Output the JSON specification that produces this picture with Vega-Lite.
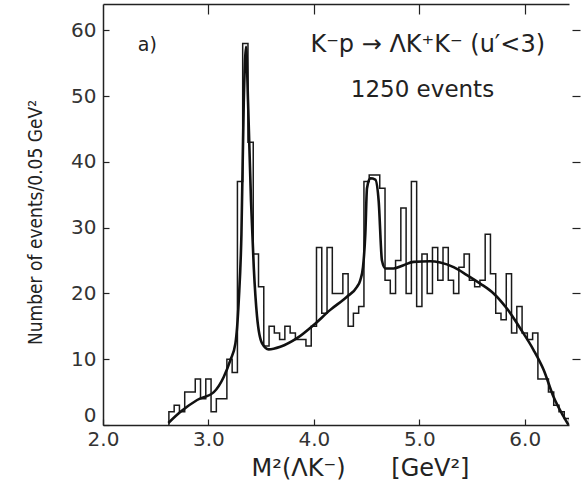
{
  "$schema": "https://vega.github.io/schema/vega-lite/v6.json",
  "width": 466,
  "height": 421,
  "autosize": {"type": "none"},
  "padding": {"left": 103, "top": 4, "right": 13, "bottom": 60},
  "background": "white",
  "config": {"view": {"stroke": null}, "font": "DejaVu Sans"},
  "datasets": {
    "hist": [
      {"i": 0, "m2": 2.625, "n": 0},
      {"i": 1, "m2": 2.625, "n": 2},
      {"i": 2, "m2": 2.675, "n": 3},
      {"i": 3, "m2": 2.725, "n": 2},
      {"i": 4, "m2": 2.775, "n": 5},
      {"i": 5, "m2": 2.825, "n": 5},
      {"i": 6, "m2": 2.875, "n": 7},
      {"i": 7, "m2": 2.925, "n": 4},
      {"i": 8, "m2": 2.975, "n": 7},
      {"i": 9, "m2": 3.025, "n": 2},
      {"i": 10, "m2": 3.075, "n": 4},
      {"i": 11, "m2": 3.125, "n": 4},
      {"i": 12, "m2": 3.175, "n": 10},
      {"i": 13, "m2": 3.225, "n": 8},
      {"i": 14, "m2": 3.275, "n": 37},
      {"i": 15, "m2": 3.325, "n": 58},
      {"i": 16, "m2": 3.375, "n": 43},
      {"i": 17, "m2": 3.425, "n": 26},
      {"i": 18, "m2": 3.475, "n": 21},
      {"i": 19, "m2": 3.525, "n": 12},
      {"i": 20, "m2": 3.575, "n": 15},
      {"i": 21, "m2": 3.625, "n": 14},
      {"i": 22, "m2": 3.675, "n": 13},
      {"i": 23, "m2": 3.725, "n": 15},
      {"i": 24, "m2": 3.775, "n": 14},
      {"i": 25, "m2": 3.825, "n": 13},
      {"i": 26, "m2": 3.875, "n": 13},
      {"i": 27, "m2": 3.925, "n": 12},
      {"i": 28, "m2": 3.975, "n": 15},
      {"i": 29, "m2": 4.025, "n": 27},
      {"i": 30, "m2": 4.075, "n": 17},
      {"i": 31, "m2": 4.125, "n": 27},
      {"i": 32, "m2": 4.175, "n": 20},
      {"i": 33, "m2": 4.225, "n": 20},
      {"i": 34, "m2": 4.275, "n": 23},
      {"i": 35, "m2": 4.325, "n": 15},
      {"i": 36, "m2": 4.375, "n": 17},
      {"i": 37, "m2": 4.425, "n": 18},
      {"i": 38, "m2": 4.475, "n": 37},
      {"i": 39, "m2": 4.525, "n": 38},
      {"i": 40, "m2": 4.575, "n": 38},
      {"i": 41, "m2": 4.625, "n": 36},
      {"i": 42, "m2": 4.675, "n": 22},
      {"i": 43, "m2": 4.725, "n": 20},
      {"i": 44, "m2": 4.775, "n": 25},
      {"i": 45, "m2": 4.825, "n": 33},
      {"i": 46, "m2": 4.875, "n": 20},
      {"i": 47, "m2": 4.925, "n": 37},
      {"i": 48, "m2": 4.975, "n": 18},
      {"i": 49, "m2": 5.025, "n": 26},
      {"i": 50, "m2": 5.075, "n": 20},
      {"i": 51, "m2": 5.125, "n": 27},
      {"i": 52, "m2": 5.175, "n": 22},
      {"i": 53, "m2": 5.225, "n": 27},
      {"i": 54, "m2": 5.275, "n": 22},
      {"i": 55, "m2": 5.325, "n": 20},
      {"i": 56, "m2": 5.375, "n": 24},
      {"i": 57, "m2": 5.425, "n": 26},
      {"i": 58, "m2": 5.475, "n": 22},
      {"i": 59, "m2": 5.525, "n": 21},
      {"i": 60, "m2": 5.575, "n": 22},
      {"i": 61, "m2": 5.625, "n": 29},
      {"i": 62, "m2": 5.675, "n": 23},
      {"i": 63, "m2": 5.725, "n": 17},
      {"i": 64, "m2": 5.775, "n": 16},
      {"i": 65, "m2": 5.825, "n": 23},
      {"i": 66, "m2": 5.875, "n": 14},
      {"i": 67, "m2": 5.925, "n": 18},
      {"i": 68, "m2": 5.975, "n": 14},
      {"i": 69, "m2": 6.025, "n": 13},
      {"i": 70, "m2": 6.075, "n": 14},
      {"i": 71, "m2": 6.125, "n": 7},
      {"i": 72, "m2": 6.175, "n": 7},
      {"i": 73, "m2": 6.225, "n": 5},
      {"i": 74, "m2": 6.275, "n": 3},
      {"i": 75, "m2": 6.325, "n": 2},
      {"i": 76, "m2": 6.375, "n": 1},
      {"i": 77, "m2": 6.425, "n": 0}
    ],
    "fit": [
      {"m2": 2.62, "n": 0.3},
      {"m2": 2.735, "n": 2},
      {"m2": 2.893, "n": 3.8},
      {"m2": 3.051, "n": 5},
      {"m2": 3.145, "n": 7.3},
      {"m2": 3.209, "n": 9.9},
      {"m2": 3.256, "n": 12.4},
      {"m2": 3.288, "n": 19},
      {"m2": 3.313, "n": 29},
      {"m2": 3.335, "n": 49},
      {"m2": 3.357, "n": 57.5},
      {"m2": 3.376, "n": 49},
      {"m2": 3.404, "n": 34},
      {"m2": 3.43, "n": 24},
      {"m2": 3.461, "n": 16.5},
      {"m2": 3.509, "n": 12.4},
      {"m2": 3.572, "n": 11.5},
      {"m2": 3.682, "n": 11.9},
      {"m2": 3.84, "n": 13.2},
      {"m2": 3.998, "n": 15.2},
      {"m2": 4.156, "n": 17.5},
      {"m2": 4.314, "n": 19.5},
      {"m2": 4.409, "n": 21},
      {"m2": 4.44, "n": 22},
      {"m2": 4.466, "n": 24},
      {"m2": 4.488, "n": 29},
      {"m2": 4.504, "n": 36},
      {"m2": 4.535, "n": 37.5},
      {"m2": 4.583, "n": 37.3},
      {"m2": 4.615, "n": 34},
      {"m2": 4.646, "n": 25},
      {"m2": 4.678, "n": 23.8},
      {"m2": 4.757, "n": 23.8},
      {"m2": 4.851, "n": 24.3},
      {"m2": 4.946, "n": 24.8},
      {"m2": 5.104, "n": 24.9},
      {"m2": 5.199, "n": 24.7},
      {"m2": 5.325, "n": 24},
      {"m2": 5.452, "n": 22.8},
      {"m2": 5.578, "n": 21.5},
      {"m2": 5.705, "n": 20},
      {"m2": 5.831, "n": 17.7},
      {"m2": 5.957, "n": 14.7},
      {"m2": 6.084, "n": 11.4},
      {"m2": 6.179, "n": 8.4},
      {"m2": 6.273, "n": 4.3},
      {"m2": 6.368, "n": 1.3},
      {"m2": 6.415, "n": 0}
    ],
    "notes": [
      {"m2": 2.42, "n": 57.8, "label": "a)", "size": 19},
      {"m2": 5.08, "n": 57.8, "label": "K⁻p → ΛK⁺K⁻ (u′<3)", "size": 24},
      {"m2": 5.03, "n": 50.9, "label": "1250 events", "size": 23}
    ]
  },
  "resolve": {"axis": {"x": "independent", "y": "independent"}},
  "layer": [
    {
      "data": {"name": "hist"},
      "mark": {"type": "line", "interpolate": "step-after", "color": "#1a1a1a", "strokeWidth": 1.5, "clip": true},
      "encoding": {
        "x": {
          "field": "m2", "type": "quantitative",
          "scale": {"domain": [2, 6.42], "nice": false, "zero": false},
          "axis": {
            "orient": "bottom", "values": [2, 3, 4, 5, 6], "format": ".1f",
            "grid": false, "domainColor": "#222", "domainWidth": 1.5,
            "tickColor": "#222", "tickSize": -6, "tickWidth": 1.2,
            "labelFontSize": 20, "labelColor": "#333", "labelPadding": 10, "labelFlush": false,
            "title": "M²(ΛK⁻)\u00a0\u00a0\u00a0\u00a0\u00a0\u00a0[GeV²]",
            "titleFontSize": 24, "titleFontWeight": "normal", "titleColor": "#222",
            "titleX": 257, "titleY": 43, "titleAlign": "center", "titleBaseline": "middle"
          }
        },
        "y": {
          "field": "n", "type": "quantitative",
          "scale": {"domain": [0, 64], "nice": false},
          "axis": {
            "orient": "left", "values": [0, 10, 20, 30, 40, 50, 60], "format": "d",
            "grid": false, "domainColor": "#222", "domainWidth": 1.5,
            "tickColor": "#222", "tickSize": -6, "tickWidth": 1.2,
            "labelFontSize": 20, "labelColor": "#333", "labelPadding": 13, "labelFlush": true,
            "title": "Number of events/0.05 GeV²",
            "titleFont": "DejaVu Sans Condensed, DejaVu Sans",
            "titleFontSize": 19, "titleFontWeight": "normal", "titleColor": "#222",
            "titleX": -68, "titleY": 218, "titleAngle": -90, "titleAlign": "center", "titleBaseline": "middle"
          }
        },
        "order": {"field": "i", "type": "quantitative"}
      }
    },
    {
      "data": {"name": "fit"},
      "mark": {"type": "line", "interpolate": "monotone", "color": "#111", "strokeWidth": 2.6},
      "encoding": {
        "x": {
          "field": "m2", "type": "quantitative",
          "axis": {
            "orient": "top", "values": [3, 4, 5, 6], "labels": false, "grid": false,
            "domainColor": "#222", "domainWidth": 1.5, "tickColor": "#222",
            "tickSize": -10, "tickWidth": 1.2, "title": null
          }
        },
        "y": {
          "field": "n", "type": "quantitative",
          "axis": {
            "orient": "right", "values": [10, 20, 30, 40, 50, 60], "labels": false, "grid": false,
            "domain": false, "tickColor": "#222", "tickSize": 8, "tickWidth": 1.2, "offset": 3, "title": null
          }
        }
      }
    },
    {
      "data": {"name": "notes"},
      "mark": {"type": "text", "align": "center", "baseline": "middle", "color": "#222"},
      "encoding": {
        "x": {"field": "m2", "type": "quantitative", "axis": null},
        "y": {"field": "n", "type": "quantitative", "axis": null},
        "text": {"field": "label"},
        "size": {"field": "size", "type": "quantitative", "scale": null}
      }
    }
  ]
}
